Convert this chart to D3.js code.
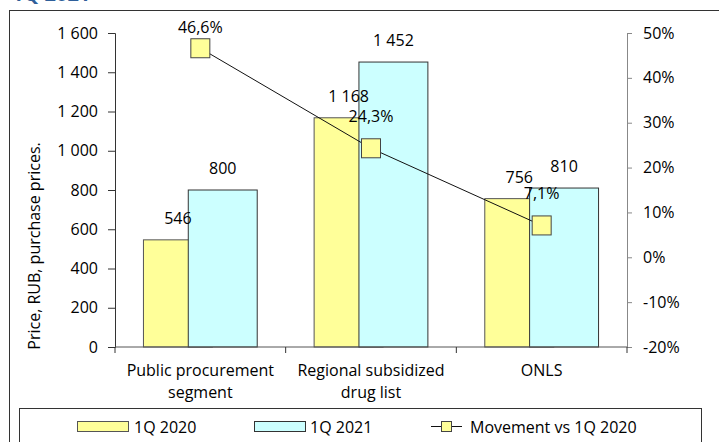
<!DOCTYPE html>
<html>
<head>
<meta charset="utf-8">
<script src="https://cdn.jsdelivr.net/npm/d3@7"></script>
<style>
  body { margin: 0; background: #fff; }
  text { font-family: "Open Sans", sans-serif; fill: #000; }
</style>
</head>
<body>
<div id="chart"></div>
<script>
var width = 719;
var height = 442;

// data
var categories = [["Public procurement", "segment"], ["Regional subsidized", "drug list"], ["ONLS"]];
var prices2020 = [546, 1168, 756];
var prices2021 = [800, 1452, 810];
var movement = [46.6, 24.3, 7.1];
var leftTicks = [0, 200, 400, 600, 800, 1000, 1200, 1400, 1600];
var rightTicks = [-20, -10, 0, 10, 20, 30, 40, 50];

var fmtNum = function(v) { return d3.format(",")(v).replace(/,/g, " "); };
var fmtPct = function(v) { return d3.format(".1f")(v).replace(".", ",") + "%"; };

var svg = d3.select('#chart')
    .append('svg')
    .attr('width', width)
    .attr('height', height);

// title, cut off at the top
svg.append('text')
    .attr('x', 12).attr('y', 1)
    .style('font-weight', 'bold')
    .style('font-size', '20px')
    .style('fill', '#2f5f9a')
    .text('1Q 2021');

// chart border
svg.append('rect')
    .attr('x', 9.5).attr('y', 10.5)
    .attr('width', 740).attr('height', 460)
    .attr('fill', 'none').attr('stroke', '#333');

var plotL = 115, plotR = 627, plotT = 33, plotB = 347;

var x = d3.scaleBand().domain(d3.range(categories.length)).range([plotL, plotR]);
var y = d3.scaleLinear().domain([0, 1600]).range([plotB, plotT]);
var yR = d3.scaleLinear().domain([-20, 50]).range([plotB, plotT]);

var barW = x.bandwidth() * 0.404;
var span = barW * 1.65;

// bars
var g = svg.append('g');
categories.forEach(function(c, i) {
  var x0 = x(i) + x.bandwidth() / 2 - span / 2;
  var x1 = x0 + barW * 0.65;
  g.append('rect')
      .attr('x', x0).attr('y', y(prices2020[i]))
      .attr('width', barW).attr('height', y(0) - y(prices2020[i]))
      .attr('fill', '#ffff99').attr('stroke', '#555');
  g.append('rect')
      .attr('x', x1).attr('y', y(prices2021[i]))
      .attr('width', barW).attr('height', y(0) - y(prices2021[i]))
      .attr('fill', '#ccffff').attr('stroke', '#333');
  g.append('text')
      .attr('x', x0 + barW / 2).attr('y', y(prices2020[i]) - 16)
      .attr('text-anchor', 'middle').style('font-size', '16px')
      .text(fmtNum(prices2020[i]));
  g.append('text')
      .attr('x', x1 + barW / 2).attr('y', y(prices2021[i]) - 16)
      .attr('text-anchor', 'middle').style('font-size', '16px')
      .text(fmtNum(prices2021[i]));
});

// axes
var yAxis = svg.append('g')
    .attr('transform', 'translate(' + plotL + ',0)')
    .call(d3.axisLeft(y).tickValues(leftTicks).tickSize(7).tickPadding(10).tickFormat(fmtNum));
yAxis.select('.domain').attr('stroke', '#333');
yAxis.selectAll('line').attr('stroke', '#333');

var yAxisR = svg.append('g')
    .attr('transform', 'translate(' + plotR + ',0)')
    .call(d3.axisRight(yR).tickValues(rightTicks).tickSize(5).tickPadding(11).tickFormat(function(d) { return d + '%'; }));
yAxisR.select('.domain').attr('stroke', '#888');
yAxisR.selectAll('line').attr('stroke', '#888');

var xAxis = svg.append('g')
    .attr('transform', 'translate(0,' + plotB + ')');
xAxis.append('line')
    .attr('x1', plotL).attr('x2', plotR)
    .attr('stroke', '#555');
xAxis.selectAll('.tk')
    .data(d3.range(categories.length + 1))
    .enter().append('line')
    .attr('x1', function(d) { return plotL + d * x.step(); })
    .attr('x2', function(d) { return plotL + d * x.step(); })
    .attr('y1', 0).attr('y2', 6)
    .attr('stroke', '#333');

svg.selectAll('.tick text')
    .attr('font-family', null).attr('font-size', null)
    .style('font-size', '16px').style('fill', '#000');

// category labels
categories.forEach(function(c, i) {
  var t = svg.append('text')
      .attr('text-anchor', 'middle')
      .style('font-size', '16px');
  c.forEach(function(line, j) {
    t.append('tspan')
        .attr('x', x(i) + x.bandwidth() / 2)
        .attr('y', 376 + j * 22)
        .text(line);
  });
});

// y title
svg.append('text')
    .attr('transform', 'translate(40,246) rotate(-90)')
    .attr('text-anchor', 'middle')
    .style('font-size', '16px')
    .text('Price, RUB, purchase prices.');

// movement line
var line = d3.line()
    .x(function(d, i) { return x(i) + x.bandwidth() / 2; })
    .y(function(d) { return yR(d); });

svg.append('path')
    .datum(movement)
    .attr('fill', 'none')
    .attr('stroke', '#111')
    .attr('stroke-width', 1)
    .attr('d', line);

svg.selectAll('.mk')
    .data(movement)
    .enter().append('rect')
    .attr('x', function(d, i) { return x(i) + x.bandwidth() / 2 - 9.5; })
    .attr('y', function(d) { return yR(d) - 9.5; })
    .attr('width', 19).attr('height', 19)
    .attr('fill', '#ffff99').attr('stroke', '#444');

svg.selectAll('.pl')
    .data(movement)
    .enter().append('text')
    .attr('x', function(d, i) { return x(i) + x.bandwidth() / 2; })
    .attr('y', function(d) { return Math.max(yR(d) - 26, 33); })
    .attr('text-anchor', 'middle')
    .style('font-size', '16px')
    .text(fmtPct);

// legend
svg.append('rect')
    .attr('x', 19.5).attr('y', 408.5)
    .attr('width', 682).attr('height', 60)
    .attr('fill', 'none').attr('stroke', '#333');

var lg = svg.append('g');
lg.append('rect').attr('x', 77.5).attr('y', 421.5).attr('width', 51).attr('height', 10)
    .attr('fill', '#ffff99').attr('stroke', '#555');
lg.append('text').attr('x', 134).attr('y', 433).style('font-size', '16px').text('1Q 2020');
lg.append('rect').attr('x', 254.5).attr('y', 421.5).attr('width', 51).attr('height', 10)
    .attr('fill', '#ccffff').attr('stroke', '#333');
lg.append('text').attr('x', 310).attr('y', 433).style('font-size', '16px').text('1Q 2021');
lg.append('line').attr('x1', 431).attr('x2', 462).attr('y1', 426.5).attr('y2', 426.5)
    .attr('stroke', '#111');
lg.append('rect').attr('x', 441.5).attr('y', 421.5).attr('width', 10).attr('height', 10)
    .attr('fill', '#ffff99').attr('stroke', '#444');
lg.append('text').attr('x', 470).attr('y', 433).style('font-size', '16px').text('Movement vs 1Q 2020');
</script>
</body>
</html>
